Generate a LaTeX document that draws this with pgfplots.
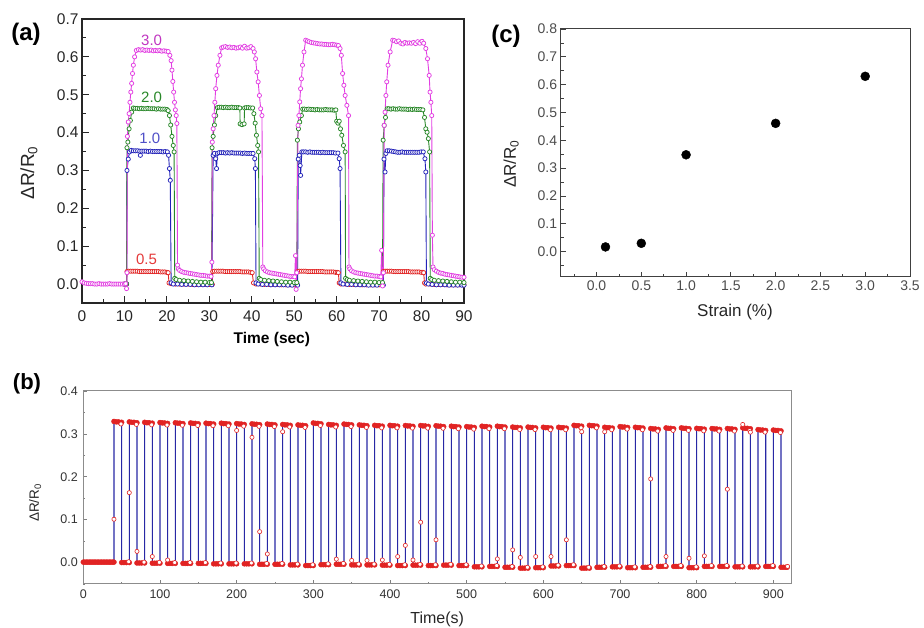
\documentclass[border=0pt]{standalone}
\usepackage{fontspec}
\setmainfont{Liberation Sans}
\usepackage{pgfplots}
\pgfplotsset{compat=1.18}
\definecolor{cmag}{RGB}{226,62,226}
\definecolor{cgrn}{RGB}{40,135,40}
\definecolor{cblu}{RGB}{35,35,185}
\definecolor{cred}{RGB}{225,35,35}
\definecolor{bblue}{RGB}{40,40,165}
\pgfplotsset{
  panel/.style={scale only axis, anchor=south west, tick align=inside,
    xtick pos=bottom, ytick pos=left,
    /pgf/number format/assume math mode=true},
  oneprec/.style={/pgf/number format/fixed, /pgf/number format/fixed zerofill, /pgf/number format/precision=1},
  aser/.style={#1, line width=0.9pt, mark=*, mark size=2.1pt,
    mark options={fill=white, draw=#1, line width=0.75pt}},
}
\begin{document}
\begin{tikzpicture}[x=1pt,y=1pt]
\useasboundingbox (0,0) rectangle (924,628);
% ---------------- (a) ----------------
\begin{axis}[panel, at={(82pt,325pt)}, width=382pt, height=284pt,
  xmin=0, xmax=90, ymin=-0.05, ymax=0.7,
  xtick={0,10,20,30,40,50,60,70,80,90}, minor xtick={5,15,25,35,45,55,65,75,85},
  ytick={0,0.1,0.2,0.3,0.4,0.5,0.6,0.7},
  minor ytick={-0.05,0.05,0.15,0.25,0.35,0.45,0.55,0.65},
  yticklabel style={oneprec},
  tick label style={font=\fontsize{15.5}{18}\selectfont, text=black!85},
  xticklabel style={yshift=-4pt},
  major tick length=7pt, minor tick length=4pt,
  tick style={black!85, line width=0.9pt},
  axis line style={black!85, line width=1.1pt},
  xlabel={\bfseries Time (sec)},
  xlabel style={at={(axis description cs:0.497,-0.13)}, anchor=center, font=\fontsize{15.5}{18}\selectfont},
  ylabel={ΔR/R\textsubscript{0}},
  ylabel style={at={(axis description cs:-0.139,0.458)}, anchor=center, font=\fontsize{19}{22}\selectfont, text=black!85},
]
% 0.5 %
\addplot[aser=cred] coordinates {
(10.0,0.0)(10.5,0.0)(10.6,0.033)(11.0,0.034)(11.5,0.034)(12,0.034)(12.5,0.034)(13,0.034)(13.5,0.033)(14,0.033)(14.5,0.033)(15,0.033)(15.5,0.033)(16,0.033)(16.5,0.033)(17,0.033)(17.5,0.033)(18,0.033)(18.5,0.032)(19,0.032)(19.5,0.032)(20,0.031)(20.3,0.03)(20.5,0.003)
(21,0.001)(22,0.0)(23,0.0)(24,0.0)(25,0.0)(26,-0.001)(27,-0.001)(28,-0.001)(29,-0.001)(30,-0.001)(30.7,-0.001)
(30.8,0.033)(31.2,0.034)(31.7,0.034)(32.2,0.034)(32.7,0.034)(33.2,0.034)(33.7,0.033)(34.2,0.033)(34.7,0.033)(35.2,0.033)(35.7,0.033)(36.2,0.033)(36.7,0.033)(37.2,0.033)(37.7,0.032)(38.2,0.032)(38.7,0.032)(39.2,0.032)(39.7,0.031)(40.1,0.03)(40.4,0.003)
(41,0.0)(42,0.0)(43,-0.001)(44,-0.001)(45,-0.001)(46,-0.001)(47,-0.002)(48,-0.002)(49,-0.002)(50,-0.002)(50.7,-0.002)
(50.8,0.033)(51.2,0.034)(51.7,0.034)(52.2,0.034)(52.7,0.034)(53.2,0.033)(53.7,0.033)(54.2,0.033)(54.7,0.033)(55.2,0.033)(55.7,0.033)(56.2,0.033)(56.7,0.033)(57.2,0.032)(57.7,0.032)(58.2,0.032)(58.7,0.032)(59.2,0.032)(59.7,0.031)(60.1,0.031)(60.4,0.03)(60.6,0.003)
(61,0.0)(62,0.0)(63,-0.001)(64,-0.001)(65,-0.001)(66,-0.002)(67,-0.002)(68,-0.002)(69,-0.002)(70,-0.002)(70.9,-0.002)
(71.0,0.033)(71.4,0.034)(71.9,0.034)(72.4,0.034)(72.9,0.034)(73.4,0.033)(73.9,0.033)(74.4,0.033)(74.9,0.033)(75.4,0.033)(75.9,0.033)(76.4,0.033)(76.9,0.033)(77.4,0.032)(77.9,0.032)(78.4,0.032)(78.9,0.032)(79.4,0.032)(79.9,0.031)(80.3,0.031)(80.5,0.03)(80.7,0.003)
(81,0.0)(82,0.0)(83,-0.001)(84,-0.001)(85,-0.001)(86,-0.002)(87,-0.002)(88,-0.002)(89,-0.002)(90,-0.002)
};
% 1.0 %
\addplot[aser=cblu] coordinates {
(10.0,0.0)(10.5,0.0)(10.6,0.30)(10.9,0.33)(11.2,0.349)(11.6,0.353)(12.1,0.352)(12.6,0.352)(13.1,0.352)(13.6,0.351)(13.75,0.34)(14.1,0.351)(14.6,0.351)(15.1,0.351)(15.6,0.35)(16.1,0.351)(16.6,0.35)(17.1,0.35)(17.6,0.35)(18.1,0.35)(18.6,0.35)(19.1,0.349)(19.6,0.35)(20.1,0.349)(20.4,0.34)(20.6,0.305)(20.8,0.274)(21.0,0.003)
(21.5,0.0)(22.5,0.0)(23.5,-0.001)(24.5,-0.001)(25.5,-0.001)(26.5,-0.002)(27.5,-0.002)(28.5,-0.002)(29.5,-0.002)(30.6,-0.002)
(30.9,0.34)(31.2,0.345)(31.5,0.331)(31.7,0.305)(31.9,0.345)(32.3,0.347)(32.8,0.347)(33.3,0.347)(33.8,0.346)(34.3,0.347)(34.8,0.346)(35.3,0.347)(35.8,0.346)(36.3,0.346)(36.8,0.346)(37.3,0.346)(37.8,0.345)(38.3,0.346)(38.8,0.345)(39.3,0.345)(39.8,0.345)(40.3,0.345)(40.7,0.331)(40.85,0.305)(41.0,0.003)
(41.5,0.0)(42.5,-0.001)(43.5,-0.001)(44.5,-0.002)(45.5,-0.002)(46.5,-0.002)(47.5,-0.002)(48.5,-0.003)(49.5,-0.003)(50.8,-0.003)
(50.95,0.33)(51.2,0.34)(51.4,0.313)(51.5,0.287)(51.8,0.349)(52.2,0.349)(52.7,0.349)(53.2,0.348)(53.7,0.349)(54.2,0.348)(54.7,0.348)(55.2,0.348)(55.7,0.348)(56.2,0.347)(56.7,0.348)(57.2,0.347)(57.7,0.347)(58.2,0.347)(58.7,0.347)(59.2,0.347)(59.7,0.346)(60.3,0.346)(60.6,0.331)(60.8,0.305)(61.0,0.003)
(61.5,0.0)(62.5,-0.001)(63.5,-0.001)(64.5,-0.002)(65.5,-0.002)(66.5,-0.002)(67.5,-0.003)(68.5,-0.003)(69.5,-0.003)(71.0,-0.003)
(71.15,0.33)(71.4,0.296)(71.6,0.345)(71.9,0.352)(72.4,0.352)(72.9,0.351)(73.4,0.35)(73.9,0.349)(74.4,0.348)(74.9,0.348)(75.4,0.349)(75.9,0.348)(76.4,0.348)(76.9,0.348)(77.4,0.348)(77.9,0.348)(78.4,0.348)(78.9,0.348)(79.4,0.348)(79.9,0.349)(80.4,0.349)(80.8,0.331)(81.0,0.296)(81.15,0.003)
(81.6,0.0)(82.5,-0.001)(83.5,-0.002)(84.5,-0.002)(85.5,-0.002)(86.5,-0.003)(87.5,-0.003)(88.5,-0.003)(89.5,-0.003)(90,-0.003)
};
% 2.0 %
\addplot[aser=cgrn] coordinates {
(10.0,0.0)(10.5,0.0)(10.6,0.36)(10.8,0.375)(11.1,0.41)(11.4,0.432)(11.7,0.454)(12.1,0.465)
(12.5,0.464)(13,0.464)(13.5,0.463)(14,0.464)(14.5,0.463)(15,0.463)(15.5,0.464)(16,0.463)(16.5,0.463)(17,0.463)(17.5,0.462)(18,0.463)(18.5,0.462)(19,0.462)(19.5,0.462)(20,0.461)(20.3,0.458)
(20.6,0.445)(20.9,0.42)(21.2,0.39)(21.5,0.366)(21.7,0.349)(21.85,0.015)
(22.2,0.012)(23,0.01)(24,0.009)(25,0.008)(26,0.007)(27,0.006)(28,0.005)(29,0.005)(30,0.004)(30.5,0.004)
(30.65,0.36)(30.9,0.39)(31.2,0.42)(31.5,0.445)(31.9,0.466)(32.3,0.467)(32.8,0.467)(33.3,0.466)(33.8,0.467)(34.3,0.466)(34.8,0.466)(35.3,0.467)(35.8,0.466)(36.3,0.466)(36.8,0.466)(37.2,0.465)(37.25,0.423)(37.7,0.421)(38.2,0.423)(38.3,0.465)(38.7,0.466)(39.2,0.466)(39.7,0.465)(40.2,0.465)
(40.5,0.45)(40.8,0.425)(41.1,0.393)(41.4,0.366)(41.6,0.349)(41.75,0.015)
(42.1,0.012)(43,0.01)(44,0.009)(45,0.008)(46,0.007)(47,0.006)(48,0.005)(49,0.005)(50,0.004)(50.6,0.004)
(50.75,0.38)(51.0,0.41)(51.3,0.428)(51.7,0.445)(52.0,0.462)(52.4,0.462)(52.9,0.461)(53.4,0.462)(53.9,0.461)(54.4,0.461)(54.9,0.46)(55.4,0.461)(55.9,0.46)(56.4,0.46)(56.9,0.46)(57.4,0.461)(57.9,0.46)(58.4,0.46)(58.9,0.46)(59.4,0.459)(59.8,0.46)(60.0,0.43)(60.3,0.425)(60.6,0.43)(60.9,0.41)(61.2,0.393)(61.6,0.366)(62.0,0.349)(62.1,0.015)
(62.5,0.012)(63,0.01)(64,0.009)(65,0.008)(66,0.007)(67,0.006)(68,0.005)(69,0.005)(70,0.004)(70.8,0.004)
(70.95,0.38)(71.2,0.419)(71.5,0.44)(71.9,0.463)(72.3,0.463)(72.8,0.462)(73.3,0.463)(73.8,0.462)(74.3,0.462)(74.8,0.463)(75.3,0.462)(75.8,0.462)(76.3,0.462)(76.8,0.461)(77.3,0.462)(77.8,0.461)(78.3,0.462)(78.8,0.461)(79.3,0.461)(79.8,0.461)(80.3,0.46)
(80.7,0.44)(81.0,0.41)(81.3,0.401)(81.6,0.384)(81.9,0.349)(82.05,0.015)
(82.4,0.012)(83,0.01)(84,0.009)(85,0.008)(86,0.007)(87,0.006)(88,0.005)(89,0.005)(90,0.004)
};
% 3.0 %
\addplot[aser=cmag] coordinates {
(0,0.006)(0.5,0.003)(1,0.002)(1.5,0.001)(2,0.001)(2.5,0.001)(3,0.0)(3.5,0.0)(4,0.001)(4.5,0.0)(5,0.0)(5.5,0.0)(6,0.0)(6.5,0.001)(7,0.0)(7.5,0.0)(8,0.0)(8.5,0.0)(9,0.0)(9.5,0.0)(10,0.0)(10.3,0.001)
(10.5,-0.012)(10.6,0.03)(10.7,0.39)(10.9,0.428)(11.1,0.45)(11.3,0.48)(11.5,0.507)(11.7,0.53)(11.9,0.556)(12.1,0.578)(12.4,0.6)(12.8,0.617)
(13.3,0.619)(13.8,0.618)(14.3,0.619)(14.8,0.617)(15.3,0.618)(15.8,0.617)(16.3,0.618)(16.8,0.616)(17.3,0.617)(17.8,0.616)(18.3,0.617)(18.8,0.615)(19.3,0.616)(19.8,0.615)(20.3,0.614)
(20.7,0.604)(21.0,0.59)(21.2,0.565)(21.4,0.535)(21.6,0.507)(21.8,0.48)(22.0,0.46)(22.2,0.445)(22.35,0.424)(22.5,0.05)
(22.7,0.04)(23.0,0.036)(23.5,0.033)(24.0,0.031)(24.5,0.03)(25.0,0.029)(25.5,0.028)(26.0,0.027)(26.5,0.026)(27.0,0.025)(27.5,0.024)(28.0,0.023)(28.5,0.023)(29.0,0.022)(29.5,0.021)(30.0,0.021)(30.4,0.02)
(30.6,0.058)(30.7,0.375)(30.9,0.41)(31.1,0.445)(31.3,0.48)(31.5,0.516)(31.8,0.551)(32.1,0.578)(32.5,0.604)(32.9,0.624)
(33.3,0.626)(33.8,0.627)(34.3,0.625)(34.8,0.626)(35.3,0.624)(35.8,0.625)(36.3,0.623)(36.8,0.624)(37.3,0.626)(37.8,0.623)(38.3,0.628)(38.8,0.623)(39.3,0.624)(39.8,0.627)(40.3,0.622)
(40.6,0.613)(40.9,0.595)(41.2,0.56)(41.5,0.534)(41.8,0.498)(42.1,0.463)(42.4,0.445)(42.6,0.045)
(42.8,0.04)(43.2,0.035)(43.7,0.032)(44.2,0.03)(44.7,0.029)(45.2,0.028)(45.7,0.027)(46.2,0.026)(46.7,0.025)(47.2,0.024)(47.7,0.023)(48.2,0.022)(48.7,0.021)(49.2,0.02)(49.7,0.02)(50.1,0.019)
(50.3,0.075)(50.45,-0.014)(50.6,0.03)(50.9,0.419)(51.1,0.445)(51.3,0.481)(51.5,0.516)(51.7,0.542)(51.95,0.578)(52.3,0.613)(52.7,0.644)
(53.1,0.642)(53.5,0.64)(54,0.638)(54.5,0.637)(55,0.636)(55.5,0.635)(56,0.634)(56.5,0.634)(57,0.633)(57.5,0.633)(58,0.632)(58.5,0.632)(59,0.633)(59.5,0.632)(60,0.631)(60.4,0.63)
(60.8,0.622)(61.1,0.604)(61.4,0.556)(61.7,0.525)(62.0,0.498)(62.4,0.472)(62.8,0.445)(62.9,0.045)
(63.1,0.04)(63.5,0.035)(64,0.032)(64.5,0.03)(65,0.029)(65.5,0.028)(66,0.027)(66.5,0.026)(67,0.025)(67.5,0.024)(68,0.023)(68.5,0.022)(69,0.021)(69.5,0.021)(70,0.02)(70.4,0.019)
(70.6,0.089)(70.8,-0.005)(71.0,0.03)(71.2,0.419)(71.4,0.454)(71.6,0.498)(71.8,0.534)(72.1,0.578)(72.6,0.613)(73.2,0.644)
(73.6,0.643)(74.1,0.64)(74.6,0.642)(75.1,0.636)(75.6,0.634)(76.1,0.638)(76.6,0.636)(77.1,0.637)(77.6,0.636)(78.1,0.638)(78.6,0.635)(79.1,0.64)(79.6,0.636)(80.1,0.641)(80.5,0.636)
(81.0,0.622)(81.4,0.595)(81.8,0.551)(82.0,0.507)(82.2,0.48)(82.4,0.445)(82.55,0.129)(82.7,0.045)
(83.0,0.038)(83.5,0.034)(84,0.031)(84.5,0.029)(85,0.028)(85.5,0.026)(86,0.025)(86.5,0.024)(87,0.023)(87.5,0.022)(88,0.021)(88.5,0.02)(89,0.019)(89.5,0.018)(90,0.018)
};
\node[text=cmag!85!black, font=\fontsize{15}{18}\selectfont] at (axis cs:16.4,0.644) {3.0};
\node[text=cgrn, font=\fontsize{15}{18}\selectfont] at (axis cs:16.4,0.494) {2.0};
\node[text=cblu!80!white, font=\fontsize{15}{18}\selectfont] at (axis cs:16.0,0.384) {1.0};
\node[text=cred!90!white, font=\fontsize{15}{18}\selectfont] at (axis cs:15.2,0.064) {0.5};
\end{axis}
% ---------------- (c) ----------------
\begin{axis}[panel, at={(560.7pt,351.3pt)}, width=349.3pt, height=247.7pt,
  xmin=-0.4, xmax=3.5, ymin=-0.09, ymax=0.8,
  xtick={0,0.5,1,1.5,2,2.5,3,3.5}, minor xtick={-0.25,0.25,0.75,1.25,1.75,2.25,2.75,3.25},
  ytick={0,0.1,0.2,0.3,0.4,0.5,0.6,0.7,0.8},
  minor ytick={-0.05,0.05,0.15,0.25,0.35,0.45,0.55,0.65,0.75},
  xticklabel style={oneprec, yshift=-1pt}, yticklabel style={oneprec},
  tick label style={font=\fontsize{14}{17}\selectfont, text=black!70},
  major tick length=5pt, minor tick length=3pt,
  tick style={black!75, line width=0.8pt},
  axis line style={black!75, line width=1pt},
  xlabel={Strain (\%)},
  xlabel style={at={(axis description cs:0.499,-0.1425)}, anchor=center, font=\fontsize{17}{20}\selectfont, text=black!85},
  ylabel={ΔR/R\textsubscript{0}},
  ylabel style={at={(axis description cs:-0.142,0.455)}, anchor=center, font=\fontsize{17}{20}\selectfont, text=black!85},
]
\addplot[only marks, mark=*, mark size=4.5pt, black] coordinates {
(0.1,0.017)(0.5,0.030)(1.0,0.348)(2.0,0.461)(3.0,0.630)
};
\end{axis}
% ---------------- (b) ----------------
\begin{axis}[panel, at={(83.3pt,44pt)}, width=707.7pt, height=193pt,
  xmin=0, xmax=923, ymin=-0.05, ymax=0.4,
  xtick={0,100,200,300,400,500,600,700,800,900},
  minor xtick={50,150,250,350,450,550,650,750,850},
  ytick={0,0.1,0.2,0.3,0.4}, minor ytick={-0.05,0.05,0.15,0.25,0.35},
  yticklabel style={oneprec, xshift=-2pt}, xticklabel style={yshift=-2.5pt},
  tick label style={font=\fontsize{12.5}{15}\selectfont, text=black!80},
  major tick length=4pt, minor tick length=2pt,
  tick style={black!50, line width=0.7pt},
  axis line style={black!45, line width=1pt},
  xlabel={Time(s)},
  xlabel style={at={(axis description cs:0.5,-0.181)}, anchor=center, font=\fontsize{16}{19}\selectfont, text=black!85},
  ylabel={ΔR/R\textsubscript{0}},
  ylabel style={at={(axis description cs:-0.068,0.42)}, anchor=center, font=\fontsize{13.5}{16}\selectfont, text=black!85},
]
\addplot[bblue, line width=1.1pt, mark=*, mark size=2.5pt, mark options={fill=cred, draw=cred, line width=0.4pt}] coordinates {
(0,.001)(2,.001)(4,.001)(6,.001)(8,.001)(10,.001)(12,.001)(14,.001)(16,.001)(18,.001)(20,.001)(22,.001)(24,.001)(26,.001)(28,.001)(30,.001)(32,.001)(34,.001)(36,.001)(38,.001)(40,.001)
(40,.329)(43,.328)(46,.328)(50,.327)(50,0)(53,0)(56,0)(60,0)
(60,.328)(63,.327)(66,.327)(70,.326)(70,-.001)(73,-.001)(76,-.001)(80,-.001)
(80,.327)(83,.326)(86,.326)(90,.325)(90,-.0015)(93,-.0015)(96,-.0015)(100,-.0015)
(100,.3265)(103,.3255)(106,.3255)(110,.3245)(110,-.002)(113,-.002)(116,-.002)(120,-.002)
(120,.326)(123,.325)(126,.325)(130,.324)(130,-.002)(133,-.002)(136,-.002)(140,-.002)
(140,.3255)(143,.3245)(146,.3245)(150,.3235)(150,-.002)(153,-.002)(156,-.002)(160,-.002)
(160,.325)(163,.324)(166,.324)(170,.323)(170,-.003)(173,-.003)(176,-.003)(180,-.003)
(180,.325)(183,.324)(186,.324)(190,.323)(190,-.003)(193,-.003)(196,-.003)(200,-.003)
(200,.324)(203,.323)(206,.323)(210,.322)(210,-.003)(213,-.003)(216,-.003)(220,-.003)
(220,.3235)(223,.3225)(226,.3225)(230,.3215)(230,-.004)(233,-.004)(236,-.004)(240,-.004)
(240,.323)(243,.322)(246,.322)(250,.321)(250,-.004)(253,-.004)(256,-.004)(260,-.004)
(260,.322)(263,.321)(266,.321)(270,.320)(270,-.0055)(273,-.0055)(276,-.0055)(280,-.0055)
(280,.321)(283,.320)(286,.320)(290,.319)(290,-.007)(293,-.007)(296,-.007)(300,-.007)
(300,.3255)(303,.3245)(306,.3245)(310,.3235)(310,-.005)(313,-.005)(316,-.005)(320,-.005)
(320,.322)(323,.321)(326,.321)(330,.320)(330,-.004)(333,-.004)(336,-.004)(340,-.004)
(340,.323)(343,.322)(346,.322)(350,.321)(350,-.0055)(353,-.0055)(356,-.0055)(360,-.0055)
(360,.321)(363,.320)(366,.320)(370,.319)(370,-.0055)(373,-.0055)(376,-.0055)(380,-.0055)
(380,.320)(383,.319)(386,.319)(390,.318)(390,-.006)(393,-.006)(396,-.006)(400,-.006)
(400,.320)(403,.319)(406,.319)(410,.318)(410,-.007)(413,-.007)(416,-.007)(420,-.007)
(420,.3195)(423,.3185)(426,.3185)(430,.3175)(430,-.006)(433,-.006)(436,-.006)(440,-.006)
(440,.3195)(443,.3185)(446,.3185)(450,.3175)(450,-.007)(453,-.007)(456,-.007)(460,-.007)
(460,.319)(463,.318)(466,.318)(470,.317)(470,-.006)(473,-.006)(476,-.006)(480,-.006)
(480,.318)(483,.317)(486,.317)(490,.316)(490,-.007)(493,-.007)(496,-.007)(500,-.007)
(500,.317)(503,.316)(506,.316)(510,.315)(510,-.010)(513,-.010)(516,-.010)(520,-.010)
(520,.318)(523,.317)(526,.317)(530,.316)(530,-.009)(533,-.009)(536,-.009)(540,-.009)
(540,.318)(543,.317)(546,.317)(550,.316)(550,-.011)(553,-.011)(556,-.011)(560,-.011)
(560,.316)(563,.315)(566,.315)(570,.314)(570,-.013)(573,-.013)(576,-.013)(580,-.013)
(580,.316)(583,.315)(586,.315)(590,.314)(590,-.012)(593,-.012)(596,-.012)(600,-.012)
(600,.3155)(603,.3145)(606,.3145)(610,.3135)(610,-.008)(613,-.008)(616,-.008)(620,-.008)
(620,.3155)(623,.3145)(626,.3145)(630,.3135)(630,-.007)(633,-.007)(636,-.007)(640,-.007)
(640,.320)(643,.319)(646,.319)(650,.318)(650,-.013)(653,-.013)(656,-.013)(660,-.013)
(660,.320)(663,.319)(666,.319)(670,.318)(670,-.011)(673,-.011)(676,-.011)(680,-.011)
(680,.3155)(683,.3145)(686,.3145)(690,.3135)(690,-.010)(693,-.010)(696,-.010)(700,-.010)
(700,.317)(703,.316)(706,.316)(710,.315)(710,-.012)(713,-.012)(716,-.012)(720,-.012)
(720,.3155)(723,.3145)(726,.3145)(730,.3135)(730,-.011)(733,-.011)(736,-.011)(740,-.011)
(740,.3125)(743,.3115)(746,.3115)(750,.3105)(750,-.009)(753,-.009)(756,-.009)(760,-.009)
(760,.314)(763,.313)(766,.313)(770,.312)(770,-.009)(773,-.009)(776,-.009)(780,-.009)
(780,.314)(783,.313)(786,.313)(790,.312)(790,-.012)(793,-.012)(796,-.012)(800,-.012)
(800,.313)(803,.312)(806,.312)(810,.311)(810,-.009)(813,-.009)(816,-.009)(820,-.009)
(820,.3125)(823,.3115)(826,.3115)(830,.3105)(830,-.009)(833,-.009)(836,-.009)(840,-.009)
(840,.3125)(843,.3115)(846,.3115)(850,.3105)(850,-.010)(853,-.010)(856,-.010)(860,-.010)
(860,.314)(863,.313)(866,.313)(870,.312)(870,-.010)(873,-.010)(876,-.010)(880,-.010)
(880,.310)(883,.309)(886,.309)(890,.308)(890,-.009)(893,-.009)(896,-.009)(900,-.009)
(900,.309)(903,.308)(906,.308)(910,.307)(910,-.011)(913,-.011)(916,-.011)(918,-.011)
};
\addplot[only marks, mark=*, mark size=2.1pt, mark options={fill=white, draw=cred, line width=0.6pt}] coordinates {
(49.2,.323)(69.2,.322)(89.2,.321)(109.2,.3205)(129.2,.320)(149.2,.3195)(169.2,.319)(189.2,.319)(209.2,.318)(229.2,.3175)(249.2,.317)(269.2,.316)(289.2,.315)(309.2,.3195)(329.2,.316)(349.2,.317)(369.2,.315)(389.2,.314)(409.2,.314)(429.2,.3135)(449.2,.3135)(469.2,.313)(489.2,.312)(509.2,.311)(529.2,.312)(549.2,.312)(569.2,.310)(589.2,.310)(609.2,.3095)(629.2,.3095)(649.2,.314)(669.2,.314)(689.2,.3095)(709.2,.311)(729.2,.3095)(749.2,.3065)(769.2,.308)(789.2,.308)(809.2,.307)(829.2,.3065)(849.2,.3065)(869.2,.308)(889.2,.304)(909.2,.303)
(59.2,.002)(79.2,.001)(99.2,.0005)(119.2,0)(139.2,0)(159.2,0)(179.2,-.001)(199.2,-.001)(219.2,-.001)(239.2,-.002)(259.2,-.002)(279.2,-.0035)(299.2,-.005)(319.2,-.003)(339.2,-.002)(359.2,-.0035)(379.2,-.0035)(399.2,-.004)(419.2,-.005)(439.2,-.004)(459.2,-.005)(479.2,-.004)(499.2,-.005)(519.2,-.008)(539.2,-.007)(559.2,-.009)(579.2,-.011)(599.2,-.010)(619.2,-.006)(639.2,-.005)(659.2,-.011)(679.2,-.009)(699.2,-.008)(719.2,-.010)(739.2,-.009)(759.2,-.007)(779.2,-.007)(799.2,-.010)(819.2,-.007)(839.2,-.007)(859.2,-.008)(879.2,-.008)(899.2,-.007)(918.5,-.009)
(40,0.101)(60,0.163)(70,0.026)(90,0.014)(110,0.006)(200,0.308)(220,0.292)(230,0.072)(240,0.020)(260,0.305)(330,0.008)(350,0.005)(370,0.005)(390,0.006)(410,0.014)(420,0.040)(430,0.006)(440,0.094)(460,0.053)(540,0.0085)(560,0.0295)(570,0.012)(590,0.014)(610,0.014)(630,0.053)(650,0.305)(680,0.305)(740,0.195)(760,0.014)(790,0.010)(810,0.0155)(840,0.171)(860,0.322)(870,0.304)
};
\end{axis}
% panel letters
\node[font=\fontsize{24}{28}\selectfont\bfseries] at (26,594) {(a)};
\node[font=\fontsize{24}{28}\selectfont\bfseries] at (506,592) {(c)};
\node[font=\fontsize{22}{26}\selectfont\bfseries] at (27,244) {(b)};
\end{tikzpicture}
\end{document}
